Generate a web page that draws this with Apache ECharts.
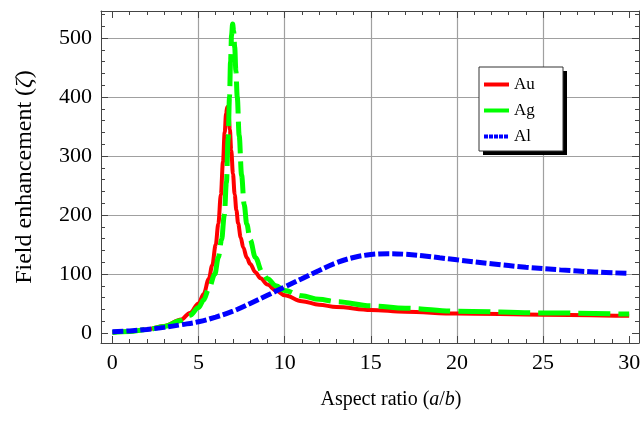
<!DOCTYPE html>
<html>
<head>
<meta charset="utf-8">
<script src="https://cdn.jsdelivr.net/npm/echarts@6/dist/echarts.min.js"></script>
<style>html,body{margin:0;padding:0;background:#fff;}#c{width:644px;height:423px;}</style>
</head>
<body>
<div id="c"></div>
<script>
// ---- data ----
const auX = [0,1,2,3,4,4.5,5,5.3,5.6,5.8,6.0,6.15,6.3,6.42,6.52,6.6,6.67,6.74,6.82,6.9,7.0,7.1,7.2,7.3,7.45,7.6,7.8,8.0,8.3,8.6,9.0,9.5,10,11,12,13,15,17,20,25,30];
const auY = [1,2.5,6,12,23,34,50,66,92,115,150,185,235,290,340,372,383,374,345,310,270,235,208,186,162,145,128,117,103,93,82,72,64,54,48,44,39,36,33,31,29];
const agX = [0,1,2,3,4,4.5,5,5.3,5.6,5.95,6.15,6.34,6.5,6.62,6.72,6.8,6.86,6.92,6.98,7.04,7.1,7.17,7.25,7.36,7.5,7.65,7.8,8.0,8.3,8.7,9.0,9.5,10,11,12,13,15,17,20,25,30];
const agY = [1,2.5,5.5,11,21,30,43,56,75,100,128,158,200,255,330,400,460,505,524,512,485,445,400,335,268,218,185,158,128,103,92,80,72,63,57,53,46,42,37,34,32];
const alX = [0,1,2,3,4,5,6,7,8,9,10,11,12,13,14,15,16,17,18,19,20,22,24,26,28,30];
const alY = [2,3.5,6,9.5,14,19,27,37,50,64,78,92,106,119,128,133,134.5,133.5,131,127.5,124,117.5,111.5,107,103.5,101];
const seriesNames = ['Au','Ag','Al'];

// ---- axes / ticks ----
const xMin = -0.66, xMax = 30.57;
const yMin = -17, yMax = 546;
const xMajor = [0,5,10,15,20,25,30];
const yMajor = [0,100,200,300,400,500];
const xGrid = [5,10,15,20,25];
const yGrid = [100,200,300,400,500];
const xMinor = []; for (let v = 1; v < 30; v++) if (v % 5) xMinor.push(v);
const yMinor = []; for (let v = 20; v <= 540; v += 20) if (v % 100) yMinor.push(v);

const serif = 'Liberation Serif';
const frameColor = '#444';

function zip(xs, ys) { return xs.map((x, i) => [x, ys[i]]); }

function axis(kind, pos, cfg) {
  const a = {
    type: 'value', position: pos,
    min: kind === 'x' ? xMin : yMin, max: kind === 'x' ? xMax : yMax,
    axisLine: { show: !!cfg.line, onZero: false, lineStyle: { color: frameColor, width: 1 } },
    axisTick: { show: !!cfg.ticks, inside: true, length: cfg.len || 7, customValues: cfg.ticks || cfg.grid,
                lineStyle: { color: frameColor, width: 1 } },
    axisLabel: { show: false },
    splitLine: { show: !!cfg.grid, lineStyle: { color: '#a0a0a0', width: 1.2 } },
    minorTick: { show: false }, minorSplitLine: { show: false }
  };
  if (cfg.labels) {
    a.axisLabel = { show: true, customValues: cfg.labels, fontFamily: serif, fontSize: 22, color: '#000', margin: 9 };
  }
  return a;
}

const x0 = axis('x', 'bottom', { line: true, ticks: xMajor, labels: xMajor });
x0.name = 'Aspect ratio ({i|a}/{i|b})';
x0.nameLocation = 'middle';
x0.nameGap = 47;
x0.nameTextStyle = { fontFamily: serif, fontSize: 20, color: '#000', padding: [0, 0, 0, 42],
  rich: { i: { fontFamily: serif, fontSize: 20, fontStyle: 'italic', color: '#000' } } };

const y0 = axis('y', 'left', { line: true, ticks: yMajor, labels: yMajor });
y0.name = 'Field enhancement ({i|ζ})';
y0.nameLocation = 'middle';
y0.nameGap = 64;
y0.nameTextStyle = { fontFamily: serif, fontSize: 24, color: '#000',
  rich: { i: { fontFamily: serif, fontSize: 24, fontStyle: 'italic', color: '#000' } } };

const hideSym = { opacity: 0 };

const option = {
  animation: false,
  backgroundColor: '#fff',
  grid: { left: 101, right: 5, top: 11, bottom: 80 },
  xAxis: [
    x0,
    axis('x', 'bottom', { ticks: xMinor, len: 4 }),
    axis('x', 'top', { line: true, ticks: xMajor }),
    axis('x', 'top', { ticks: xMinor, len: 4 }),
    axis('x', 'bottom', { grid: xGrid })
  ],
  yAxis: [
    y0,
    axis('y', 'left', { ticks: yMinor, len: 4 }),
    axis('y', 'right', { line: true, ticks: yMajor }),
    axis('y', 'right', { ticks: yMinor, len: 4 }),
    axis('y', 'left', { grid: yGrid })
  ],
  graphic: [
    { type: 'rect', z: 50, shape: { x: 483, y: 71, width: 84, height: 84 }, style: { fill: '#000' }, silent: true },
    { type: 'rect', z: 51, shape: { x: 479, y: 67, width: 84, height: 84 }, style: { fill: '#fff', stroke: '#333', lineWidth: 1 }, silent: true }
  ],
  legend: {
    orient: 'vertical', left: 476, top: 67, z: 60,
    padding: [9, 28, 9, 6], itemWidth: 25, itemHeight: 14, itemGap: 9,
    textStyle: { fontFamily: serif, fontSize: 17, color: '#000' },
    data: [
      { name: 'Au', lineStyle: { width: 4, type: 'solid' }, itemStyle: hideSym },
      { name: 'Ag', lineStyle: { width: 4, type: 'solid' }, itemStyle: hideSym },
      { name: 'Al', lineStyle: { width: 4, type: [4, 1] }, itemStyle: hideSym }
    ]
  },
  series: [
    { name: seriesNames[0], type: 'line', data: zip(auX, auY), showSymbol: false, symbol: 'none', smooth: 0.35, smoothMonotone: 'x',
      lineStyle: { color: '#ff0000', width: 4 }, itemStyle: { color: '#ff0000' }, z: 3 },
    { name: seriesNames[1], type: 'line', data: zip(agX, agY), showSymbol: false, symbol: 'none', smooth: 0.35, smoothMonotone: 'x',
      lineStyle: { color: '#00ff00', width: 5, type: [32, 8] }, itemStyle: { color: '#00ff00' }, z: 4 },
    { name: seriesNames[2], type: 'line', data: zip(alX, alY), showSymbol: false, symbol: 'none', smooth: 0.4,
      lineStyle: { color: '#0000ff', width: 5, type: [11, 3] }, itemStyle: { color: '#0000ff' }, z: 5 }
  ]
};

const chart = echarts.init(document.getElementById('c'), null, { renderer: 'canvas' });
chart.setOption(option);
</script>
</body>
</html>
